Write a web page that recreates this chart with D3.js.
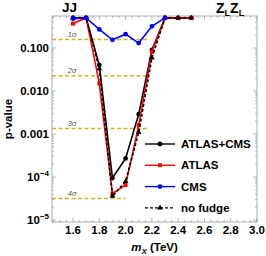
<!DOCTYPE html>
<html>
<head>
<meta charset="utf-8">
<script src="https://cdn.jsdelivr.net/npm/d3@7"></script>
<style>
  body { margin: 0; background: #fff; }
  text { font-family: "Liberation Sans", Arial, sans-serif; }
</style>
</head>
<body>
<div id="chart"></div>
<script>
// masses (TeV) and p-values
const masses = [1.6, 1.7, 1.8, 1.9, 2.0, 2.1, 2.2, 2.3, 2.4, 2.5];
const combined = [0.5, 0.5, 0.040, 9.5e-5, 2.7e-4, 0.0029, 0.09, 0.5, 0.5, 0.5];
const atlas = [0.37, 0.5, 0.015, 4.1e-5, 6.5e-5, 0.0016, 0.082, 0.5, 0.5, 0.5];
const cms = [0.48, 0.5, 0.27, 0.155, 0.21, 0.13, 0.32, 0.5];
const noFudge = [0.5, 0.5, 0.033, 3.6e-5, 7.9e-5, 0.0011, 0.059, 0.5, 0.5, 0.5];

const sigmaLabels = ["1σ", "2σ", "3σ", "4σ"];
const sigmaP = [0.1587, 0.02275, 0.00135, 3.17e-5];
const sigmaEnd = [2.18, 2.18, 2.18, 2.0];

const xTicks = [1.6, 1.8, 2.0, 2.2, 2.4, 2.6, 2.8, 3.0];
const yTicks = [1e-5, 1e-4, 1e-3, 1e-2, 1e-1];
const yTickLabels = ["10|-5", "10|-4", "0.001", "0.010", "0.100"];

const W = 266, H = 256;
const mLeft = 52, mRight = 257, mTop = 16, mBottom = 222;

const svg = d3.select('#chart').append('svg')
    .attr('width', W)
    .attr('height', H);

const x = d3.scaleLinear().domain([1.44, 3.0]).range([mLeft, mRight]);
const y = d3.scaleLog().domain([9e-6, 0.555]).range([mBottom, mTop]);

const frameCol = '#999';

// sigma lines
sigmaP.forEach((p, i) => {
    svg.append('line')
        .attr('x1', x(1.44)).attr('x2', x(sigmaEnd[i]))
        .attr('y1', y(p)).attr('y2', y(p))
        .attr('stroke', '#c4bc1c')
        .attr('stroke-width', 1.5)
        .attr('stroke-dasharray', '4,2.5');
    svg.append('text')
        .attr('x', x(1.56)).attr('y', y(p) - 2.5)
        .attr('font-size', 7.5)
        .attr('font-style', 'italic')
        .attr('fill', '#555')
        .text(sigmaLabels[i]);
});

// frame
svg.append('rect')
    .attr('x', mLeft).attr('y', mTop)
    .attr('width', mRight - mLeft).attr('height', mBottom - mTop)
    .attr('fill', 'none').attr('stroke', frameCol).attr('stroke-width', 0.8);

// x ticks (bottom + top, inward)
const xMinor = d3.range(1.45, 3.001, 0.05);
xMinor.forEach(v => {
    const major = Math.abs(v * 5 - Math.round(v * 5)) < 1e-6;
    const len = major ? 4 : 2;
    [[mBottom, -len], [mTop, len]].forEach(([yy, d]) => {
        svg.append('line')
            .attr('x1', x(v)).attr('x2', x(v))
            .attr('y1', yy).attr('y2', yy + d)
            .attr('stroke', frameCol).attr('stroke-width', 0.7);
    });
});
xTicks.forEach(v => {
    svg.append('text')
        .attr('x', x(v)).attr('y', 234)
        .attr('text-anchor', 'middle')
        .attr('font-size', 11.5).attr('font-weight', 'bold')
        .text(v.toFixed(1));
});

// y ticks (left + right, inward)
for (let e = -6; e <= 0; e++) {
    for (let m = 1; m <= 9; m++) {
        const v = m * Math.pow(10, e);
        if (v < 9e-6 || v > 0.555) continue;
        const len = m === 1 ? 4 : 2;
        [[mLeft, len], [mRight, -len]].forEach(([xx, d]) => {
            svg.append('line')
                .attr('x1', xx).attr('x2', xx + d)
                .attr('y1', y(v)).attr('y2', y(v))
                .attr('stroke', frameCol).attr('stroke-width', 0.7);
        });
    }
}
yTicks.forEach((v, i) => {
    const t = svg.append('text')
        .attr('x', 49).attr('y', y(v) + 4)
        .attr('text-anchor', 'end')
        .attr('font-size', 11.5).attr('font-weight', 'bold');
    const lab = yTickLabels[i];
    if (lab.includes('|')) {
        const [base, ex] = lab.split('|');
        t.append('tspan').text(base);
        t.append('tspan').attr('dy', -5).attr('font-size', 8).text('\u2212' + ex.slice(1));
    } else {
        t.text(lab);
    }
});

// axis labels
svg.append('text')
    .attr('transform', `translate(12,${(mTop + mBottom) / 2}) rotate(-90)`)
    .attr('text-anchor', 'middle')
    .attr('font-size', 11.5).attr('font-weight', 'bold')
    .text('p-value');

const xl = svg.append('text')
    .attr('x', (mLeft + mRight) / 2).attr('y', 251)
    .attr('text-anchor', 'middle')
    .attr('font-size', 11.5).attr('font-weight', 'bold');
xl.append('tspan').attr('font-style', 'italic').text('m');
xl.append('tspan').attr('font-style', 'italic').attr('font-size', 8).attr('dy', 2.5).text('X');
xl.append('tspan').attr('dy', -2.5).text(' (TeV)');

// titles
svg.append('text')
    .attr('x', 62).attr('y', 12)
    .attr('font-size', 13.5).attr('font-weight', 'bold')
    .text('JJ');
const zz = svg.append('text')
    .attr('x', 216).attr('y', 13)
    .attr('font-size', 14).attr('font-weight', 'bold');
zz.append('tspan').text('Z');
zz.append('tspan').attr('font-size', 9).attr('dy', 3).text('L');
zz.append('tspan').attr('dy', -3).text('Z');
zz.append('tspan').attr('font-size', 9).attr('dy', 3).text('L');

// series
const series = [
    {name: 'ATLAS+CMS', vals: combined, color: '#000', marker: 'circle', dash: null},
    {name: 'ATLAS', vals: atlas, color: '#f00', marker: 'square', dash: null},
    {name: 'no fudge', vals: noFudge, color: '#000', marker: 'triangle', dash: '3,2'},
    {name: 'CMS', vals: cms, color: '#00f', marker: 'circle', dash: null}
];

const symbols = {
    circle: d3.symbol().type(d3.symbolCircle).size(18),
    square: d3.symbol().type(d3.symbolSquare).size(16),
    triangle: d3.symbol().type(d3.symbolTriangle).size(14)
};

const line = d3.line()
    .x((d, i) => x(masses[i]))
    .y(d => y(d));

function drawSeries(g, s) {
    g.append('path')
        .datum(s.vals)
        .attr('d', line)
        .attr('fill', 'none')
        .attr('stroke', s.color)
        .attr('stroke-width', 1.6)
        .attr('stroke-dasharray', s.dash);
    g.selectAll('.pt')
        .data(s.vals)
        .enter()
        .append('path')
        .attr('transform', (d, i) => `translate(${x(masses[i])},${y(d)})`)
        .attr('d', symbols[s.marker])
        .attr('fill', s.color);
}

series.forEach(s => drawSeries(svg.append('g'), s));

// legend
const legendOrder = ['ATLAS+CMS', 'ATLAS', 'CMS', 'no fudge'];
legendOrder.forEach((name, i) => {
    const s = series.find(d => d.name === name);
    const ly = 144 + i * 21.3;
    const g = svg.append('g');
    g.append('line')
        .attr('x1', 145).attr('x2', 175)
        .attr('y1', ly).attr('y2', ly)
        .attr('stroke', s.color).attr('stroke-width', 1.4)
        .attr('stroke-dasharray', s.dash);
    g.append('path')
        .attr('transform', `translate(160,${ly})`)
        .attr('d', symbols[s.marker])
        .attr('fill', s.color);
    g.append('text')
        .attr('x', 181).attr('y', ly + 4)
        .attr('font-size', 11.5).attr('font-weight', 'bold')
        .text(name);
});
</script>
</body>
</html>
